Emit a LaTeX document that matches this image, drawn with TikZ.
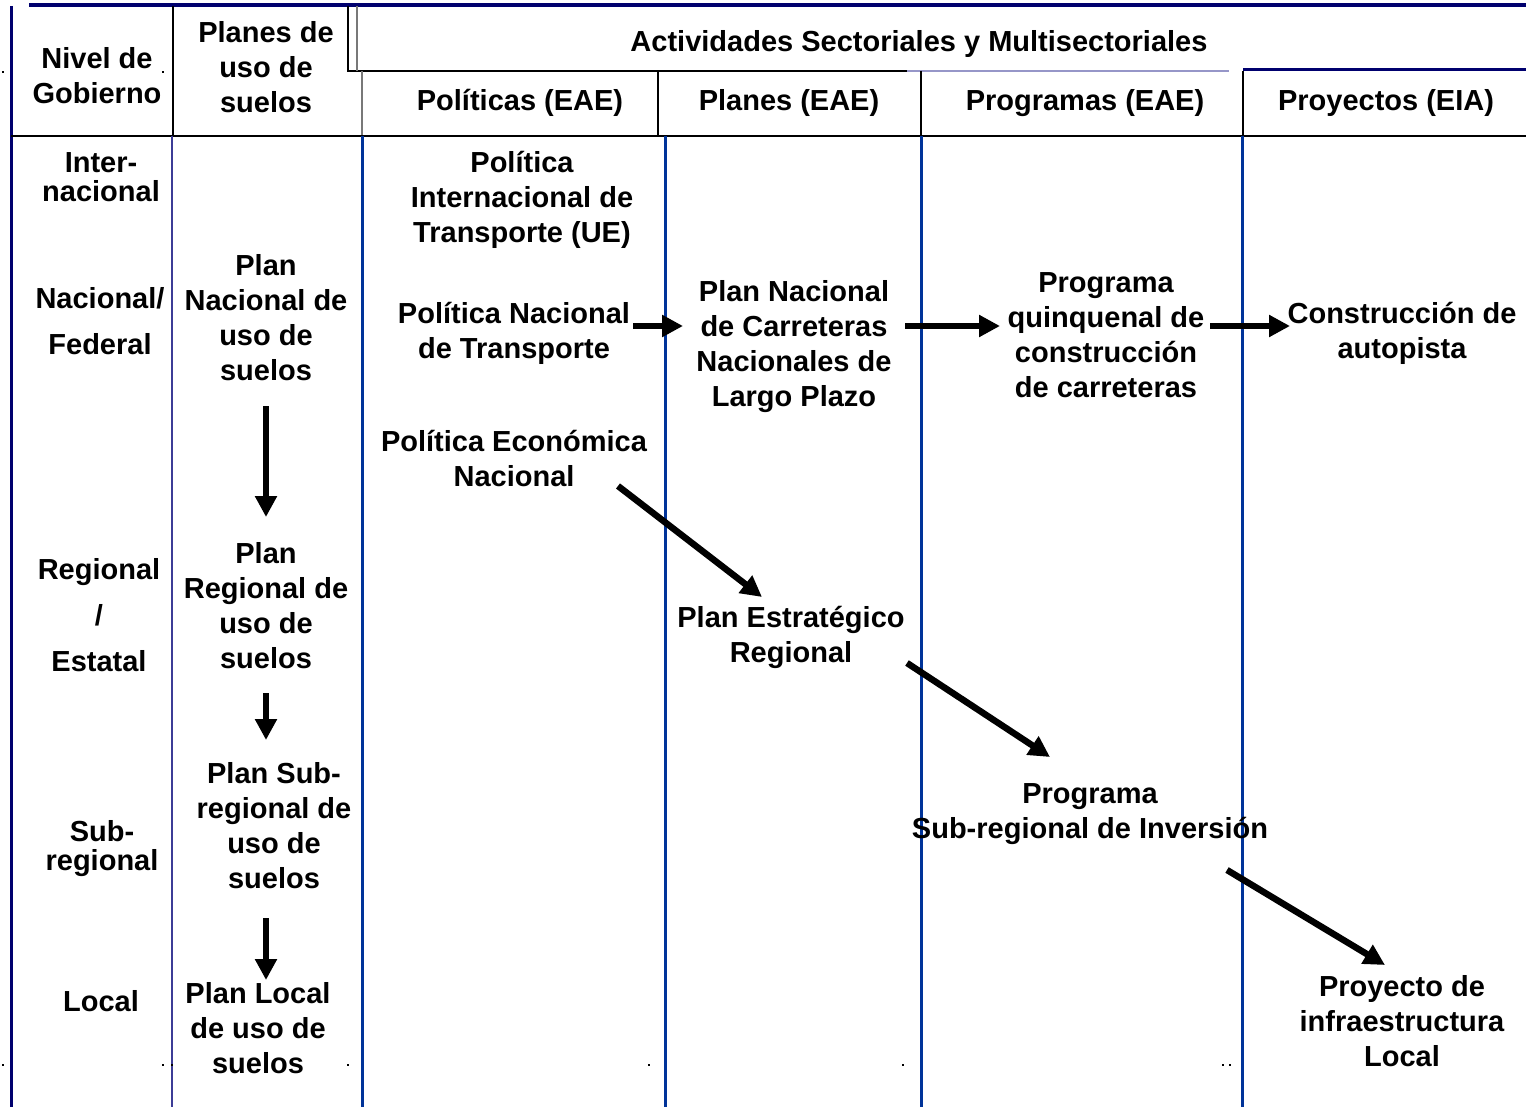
\documentclass[tikz,border=0pt]{standalone}
\usepackage{fontspec}
\setmainfont{Liberation Sans}
\usetikzlibrary{arrows.meta}
\definecolor{navy}{RGB}{0,0,110}
\definecolor{rblue}{RGB}{0,51,153}
\definecolor{thinblue}{RGB}{60,60,150}
\definecolor{lightpurple}{RGB}{150,150,200}
\definecolor{hgray}{RGB}{120,120,120}
\tikzset{
  lbl/.style={font=\bfseries\fontsize{29}{35}\selectfont, align=center, inner sep=0pt},
  tight/.style={font=\bfseries\fontsize{29}{29}\selectfont},
  loose/.style={font=\bfseries\fontsize{29}{46}\selectfont},
  flow/.style={line width=6.5pt, -{Triangle[length=21pt,width=21pt]}},
  gridblack/.style={line width=2pt, black},
  gridblue/.style={line width=3pt, rblue},
  speck/.style={fill=black, draw=none}
}
\begin{document}
\begin{tikzpicture}[x=1pt,y=-1pt]
\useasboundingbox (0,0) rectangle (1526,1107);
% ---- frame / grid lines ----
\draw[navy, line width=3.5pt] (29,5) -- (1526,5);
\draw[navy, line width=3pt] (11,6) -- (11,1107);
\draw[gridblack] (173,6) -- (173,136);
\draw[gridblack] (348,6) -- (348,71) -- (907,71);
\draw[lightpurple, line width=2pt] (907,71) -- (1229,71);
\draw[navy, line width=3pt] (1243,70) -- (1526,70);
\draw[hgray, line width=1.2pt] (357,6) -- (357,71);
\draw[hgray, line width=1.2pt] (362,71) -- (362,136);
\draw[gridblack] (658,71) -- (658,136);
\draw[gridblack, line width=1.5pt] (921,71) -- (921,136);
\draw[gridblack, line width=1.5pt] (1243,71) -- (1243,136);
\draw[gridblack] (11,136) -- (1526,136);
\draw[thinblue, line width=1.2pt] (172,136) -- (172,1107);
\draw[gridblue] (362,136) -- (362,1107);
\draw[gridblue] (665,136) -- (665,1107);
\draw[gridblue] (921,136) -- (921,1107);
\draw[gridblue] (1242,136) -- (1242,1107);
% specks
\foreach \sx/\sy in {3/72,163/72,3/1065,163/1065,172/1065,348/1065,649/1065,903/1065,1223/1065,1230/1065}
  \fill[speck] (\sx-1,\sy-1) rectangle (\sx+1,\sy+1);
% ---- header ----
\node[lbl] (hNivel) at (97,76) {Nivel de\\Gobierno};
\node[lbl] (hPlanes) at (266,67) {Planes de\\uso de\\suelos};
\node[lbl] (hAct) at (919,44) {Actividades Sectoriales y Multisectoriales};
\node[lbl] (hPol) at (520,103) {Políticas (EAE)};
\node[lbl] (hPla) at (789,103) {Planes (EAE)};
\node[lbl] (hPro) at (1085,103) {Programas (EAE)};
\node[lbl] (hPry) at (1386,103) {Proyectos (EIA)};
% ---- levels ----
\node[lbl, tight] (lInter) at (101,177) {Inter-\\nacional};
\node[lbl, loose] (lNac) at (100,321) {Nacional/\\Federal};
\node[lbl, loose] (lReg) at (99,615) {Regional\\/\\Estatal};
\node[lbl, tight] (lSub) at (102,849) {Sub-\\regional};
\node[lbl] (lLoc) at (101,1001) {Local};
% ---- land use plans ----
\node[lbl] (uNac) at (266,318) {Plan\\Nacional de\\uso de\\suelos};
\node[lbl] (uReg) at (266,606) {Plan\\Regional de\\uso de\\suelos};
\node[lbl] (uSub) at (274,826) {Plan Sub-\\regional de\\uso de\\suelos};
\node[lbl] (uLoc) at (258,1028) {Plan Local\\de uso de\\suelos};
% ---- policies ----
\node[lbl] (pInt) at (522,200) {Política\\Internacional de\\Transporte (UE)};
\node[lbl] (pNac) at (514,333) {Política Nacional\\de Transporte};
\node[lbl] (pEco) at (514,459) {Política Económica\\Nacional};
% ---- plans ----
\node[lbl] (cNac) at (794,347) {Plan Nacional\\de Carreteras\\Nacionales de\\Largo Plazo};
\node[lbl] (cEst) at (791,637) {Plan Estratégico\\Regional};
% ---- programmes ----
\node[lbl] (gQui) at (1106,335) {Programa\\quinquenal de\\construcción\\de carreteras};
\node[lbl] (gSub) at (1090,814) {Programa\\Sub-regional de Inversión};
% ---- projects ----
\node[lbl] (yCon) at (1402,333) {Construcción de\\autopista};
\node[lbl] (yLoc) at (1402,1021) {Proyecto de\\infraestructura\\Local};
% ---- arrow end points ----
\coordinate (a1s) at (633,326); \coordinate (a1e) at (683,326);
\coordinate (a2s) at (905,326); \coordinate (a2e) at (1000,326);
\coordinate (a3s) at (1210,326); \coordinate (a3e) at (1290,326);
\coordinate (a4s) at (618,486); \coordinate (a4e) at (762,597);
\coordinate (a5s) at (907,663); \coordinate (a5e) at (1050,757);
\coordinate (a6s) at (1227,870); \coordinate (a6e) at (1385,965);
\coordinate (v1s) at (266,406); \coordinate (v1e) at (266,517);
\coordinate (v2s) at (266,693); \coordinate (v2e) at (266,740);
\coordinate (v3s) at (266,918); \coordinate (v3e) at (266,980);
\draw[flow] (a1s) -- (a1e);
\draw[flow] (a2s) -- (a2e);
\draw[flow] (a3s) -- (a3e);
\draw[flow] (a4s) -- (a4e);
\draw[flow] (a5s) -- (a5e);
\draw[flow] (a6s) -- (a6e);
\draw[flow] (v1s) -- (v1e);
\draw[flow] (v2s) -- (v2e);
\draw[flow] (v3s) -- (v3e);
\end{tikzpicture}
\end{document}
